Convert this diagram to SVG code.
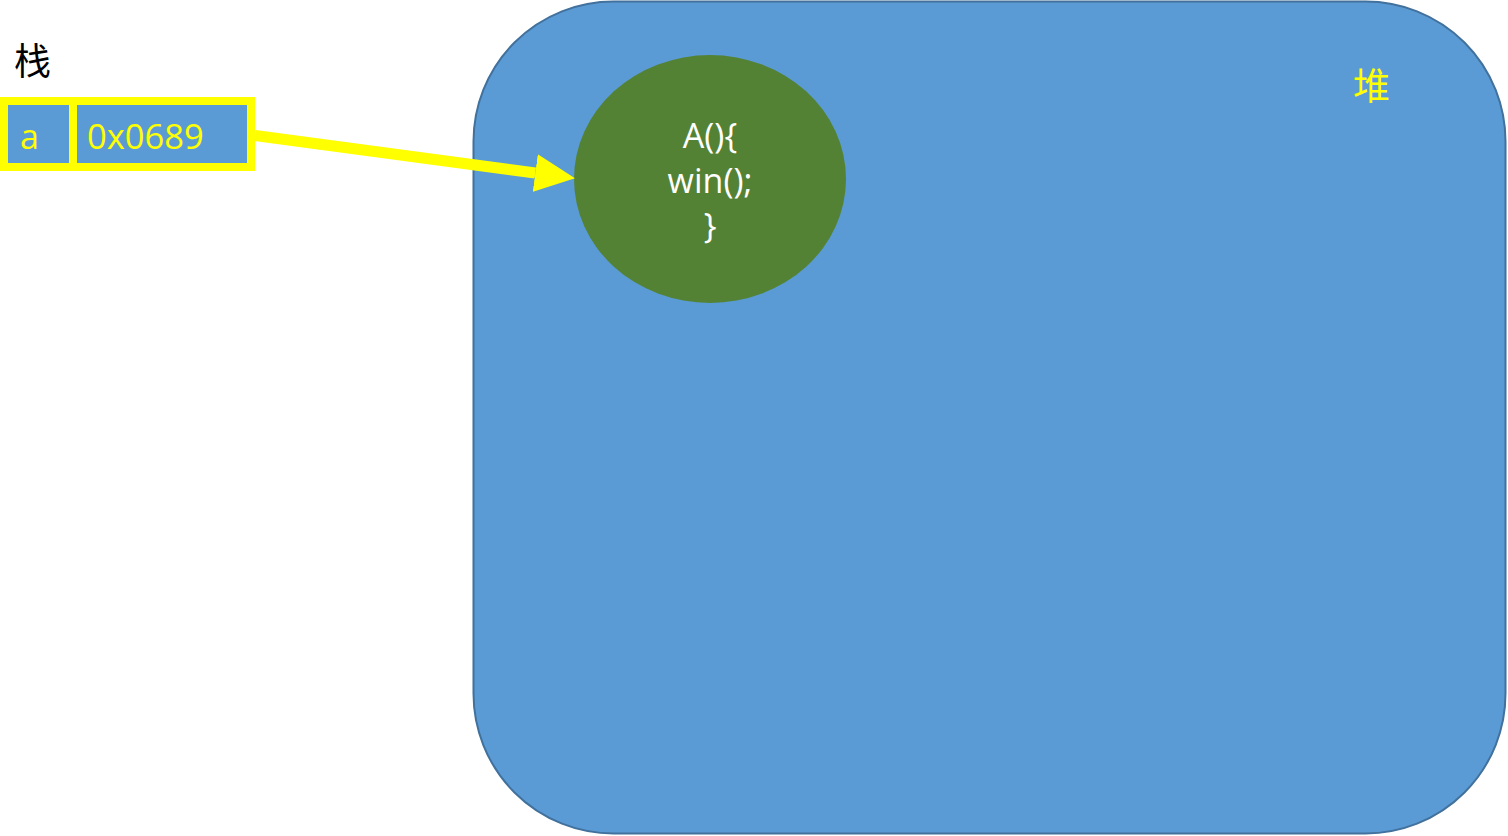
<svg xmlns="http://www.w3.org/2000/svg" width="1508" height="836" viewBox="0 0 1508 836">
<style>
.cell{fill:#5B9BD5;stroke:#FFFF00;stroke-width:8}
.t{font-family:"Open Sans","Liberation Sans",sans-serif}
.cjk{font-family:"Noto Sans CJK SC",sans-serif;font-size:37px}
.y{fill:#FFFF00}
.w{fill:#FFFFFF}
</style>
<defs>
<marker id="ah" markerUnits="userSpaceOnUse" markerWidth="40" markerHeight="38" viewBox="0 0 38 36" refX="0" refY="18" orient="auto">
<path d="M0,0 L38,18 L0,36 z" fill="#FFFF00"/>
</marker>
</defs>
<g id="heap">
<rect x="473.5" y="1.5" width="1032" height="832" rx="140" ry="140" fill="#5B9BD5" stroke="#41719C" stroke-width="2"/>
<text class="cjk y" x="1353" y="100">堆</text>
</g>
<g id="stack-label">
<text class="cjk" x="14" y="75" fill="#000000">栈</text>
</g>
<g id="cell-a">
<rect class="cell" x="4" y="101" width="69" height="66"/>
<text class="t y" x="20" y="149" font-size="34">a</text>
</g>
<g id="cell-addr">
<rect class="cell" x="73" y="101" width="178" height="66"/>
<text class="t y" x="87" y="149" font-size="34.5">0x0689</text>
</g>
<g id="object">
<ellipse cx="710" cy="179" rx="136" ry="124" fill="#548235"/>
<text class="t w" x="710" text-anchor="middle" font-size="34"><tspan x="710" y="148">A(){</tspan><tspan x="710" y="193">win();</tspan><tspan x="710" y="238">}</tspan></text>
</g>
<g id="connectors">
<line x1="255" y1="135.5" x2="535.3" y2="173" stroke="#FFFF00" stroke-width="11" marker-end="url(#ah)"/>
</g>
</svg>
